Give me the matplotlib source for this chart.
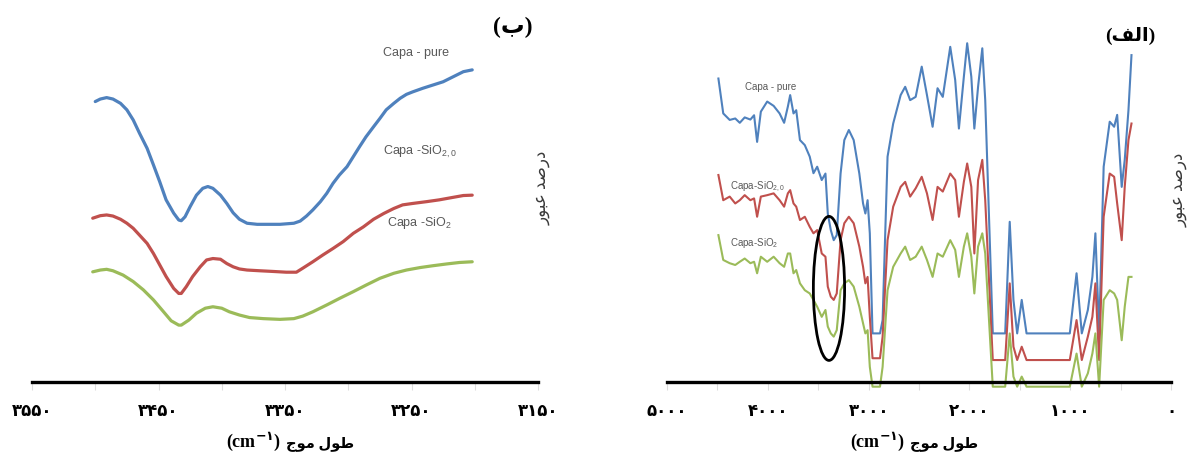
#!/usr/bin/env python3
"""FTIR transmission spectra of Capa samples: full range and the O-H band."""

import matplotlib
matplotlib.use("Agg")
import matplotlib.pyplot as plt
from matplotlib.patches import Ellipse

plt.rcParams["mathtext.fontset"] = "custom"
plt.rcParams["mathtext.rm"] = "Liberation Sans"
plt.rcParams["mathtext.bf"] = "DejaVu Sans:bold"

# panel (b): 3550-3150 cm-1 zoom
zoom_wn_pure = [3500, 3496, 3491, 3486, 3480, 3475, 3470, 3465, 3459, 3454,
                3449, 3444, 3438, 3434, 3432, 3429, 3425, 3420, 3415, 3411,
                3407, 3401, 3396, 3391, 3386, 3380, 3372, 3365, 3354, 3343,
                3338, 3333, 3328, 3322, 3317, 3312, 3307, 3301, 3296, 3291,
                3286, 3280, 3275, 3270, 3264, 3259, 3254, 3249, 3241, 3233,
                3225, 3217, 3209, 3202]
zoom_t_pure = [77.9, 78.6, 79.0, 78.6, 77.4, 75.6, 72.8, 69.1, 64.9, 60.3,
               55.6, 50.6, 46.9, 45.0, 44.8, 45.9, 48.7, 51.9, 53.8, 54.3,
               53.8, 51.9, 49.6, 47.0, 45.2, 44.1, 43.8, 43.8, 43.8, 44.1,
               44.7, 46.1, 47.8, 50.1, 52.4, 55.2, 57.5, 59.8, 62.6, 65.4,
               68.1, 70.9, 73.2, 75.6, 77.4, 78.8, 79.9, 80.6, 81.6, 82.5,
               83.4, 84.8, 86.2, 86.7]
zoom_wn_sio2a = [3502, 3496, 3491, 3486, 3480, 3475, 3470, 3465, 3459, 3454,
                 3449, 3444, 3438, 3434, 3432, 3428, 3423, 3417, 3412, 3407,
                 3401, 3396, 3391, 3386, 3380, 3370, 3359, 3349, 3341, 3336,
                 3328, 3320, 3312, 3304, 3296, 3288, 3280, 3272, 3264, 3257,
                 3249, 3238, 3228, 3217, 3209, 3202]
zoom_t_sio2a = [45.5, 46.2, 46.4, 46.1, 45.2, 44.1, 42.7, 40.8, 38.5, 35.7,
                32.5, 29.3, 26.0, 24.6, 24.6, 26.5, 29.3, 32.0, 33.9, 34.3,
                34.1, 32.9, 32.0, 31.4, 31.1, 30.9, 30.7, 30.5, 30.5, 31.6,
                33.4, 35.3, 37.1, 39.0, 41.3, 43.1, 45.2, 46.8, 48.2, 49.2,
                49.6, 50.1, 50.6, 51.3, 51.8, 51.9]
zoom_wn_sio2 = [3502, 3496, 3491, 3486, 3478, 3470, 3462, 3454, 3446, 3440,
                3434, 3432, 3426, 3420, 3413, 3407, 3400, 3394, 3386, 3378,
                3367, 3354, 3343, 3336, 3328, 3317, 3307, 3296, 3286, 3275,
                3264, 3254, 3243, 3233, 3222, 3212, 3202]
zoom_t_sio2 = [30.6, 31.1, 31.3, 30.9, 29.7, 27.9, 25.6, 22.8, 19.5, 17.0,
               15.8, 15.8, 17.2, 19.1, 20.5, 20.9, 20.5, 19.5, 18.6, 17.9,
               17.6, 17.4, 17.6, 18.3, 19.5, 21.4, 23.2, 25.1, 26.9, 28.8,
               30.2, 31.1, 31.8, 32.3, 32.8, 33.2, 33.4]

zoom_ticks = [3550, 3450, 3350, 3250, 3150]
zoom_minor = [3500, 3400, 3300, 3200]
zoom_labels = ["۳۵۵۰", "۳۴۵۰", "۳۳۵۰", "۳۲۵۰", "۳۱۵۰"]

# panel (a): full spectrum
full_wn = [4490, 4442, 4378, 4323, 4278, 4229, 4173, 4136, 4106, 4069,
           4006, 3942, 3883, 3838, 3801, 3778, 3745, 3718, 3681, 3633,
           3584, 3547, 3510, 3465, 3428, 3405, 3375, 3346, 3316, 3278,
           3241, 3196, 3148, 3092, 3055, 3032, 3010, 2988, 2961, 2887,
           2861, 2812, 2756, 2682, 2637, 2588, 2533, 2473, 2421, 2365,
           2316, 2264, 2190, 2141, 2104, 2055, 2022, 1981, 1951, 1914,
           1872, 1843, 1768, 1645, 1600, 1563, 1526, 1481, 1433, 1004,
           937, 885, 825, 780, 750, 713, 668, 608, 564, 534,
           489, 459, 422, 392]
full_t_pure = [84.3, 74.6, 72.8, 73.2, 72.0, 73.5, 72.9, 74.1, 66.7, 75.1,
               77.9, 76.7, 74.6, 72.0, 76.5, 79.7, 74.6, 75.5, 67.2, 65.8,
               62.6, 58.0, 59.8, 56.1, 57.9, 46.8, 42.2, 39.4, 40.8, 57.9,
               67.2, 70.0, 67.2, 57.9, 49.6, 46.8, 50.5, 41.3, 13.5, 13.5,
               17.2, 62.6, 71.8, 79.7, 82.0, 78.3, 79.2, 87.6, 79.7, 70.9,
               81.6, 79.2, 93.1, 83.9, 70.4, 84.8, 94.1, 84.8, 70.4, 82.0,
               92.7, 78.3, 13.5, 13.5, 44.5, 22.8, 13.5, 22.8, 13.5, 13.5,
               30.2, 13.5, 20.0, 29.2, 41.3, 13.5, 59.8, 72.3, 70.9, 74.2,
               54.2, 61.7, 75.5, 90.8]
full_t_sio2a = [57.5, 50.5, 51.5, 49.6, 50.5, 51.9, 50.5, 51.0, 45.9, 51.5,
                51.9, 52.4, 50.5, 48.7, 52.4, 53.3, 49.6, 48.7, 45.0, 45.9,
                43.1, 41.3, 42.2, 35.7, 34.8, 26.5, 23.7, 22.8, 24.6, 39.4,
                44.1, 45.9, 44.1, 37.6, 32.0, 27.4, 29.2, 18.1, 6.6, 6.6,
                12.6, 39.4, 48.7, 54.2, 55.6, 51.5, 53.8, 57.0, 52.4, 45.0,
                54.2, 52.9, 57.9, 56.1, 45.9, 55.6, 60.7, 54.2, 35.7, 56.1,
                61.7, 50.5, 6.1, 6.1, 27.4, 9.8, 6.1, 9.8, 6.1, 6.1,
                17.2, 6.1, 12.6, 18.1, 27.4, 6.1, 45.9, 57.9, 57.0, 49.6,
                39.4, 54.2, 67.2, 71.8]
full_t_sio2 = [40.8, 33.9, 33.0, 32.5, 33.4, 34.3, 33.0, 33.4, 30.2, 34.8,
               33.4, 34.8, 33.0, 32.0, 35.7, 35.7, 30.2, 31.1, 27.4, 25.5,
               24.6, 22.8, 20.9, 18.1, 20.0, 15.4, 13.5, 12.6, 14.4, 25.5,
               27.4, 28.3, 26.5, 20.9, 16.3, 13.5, 14.4, 4.2, -1.3, -1.3,
               4.2, 25.5, 32.0, 35.7, 37.6, 33.9, 34.8, 37.6, 33.9, 29.2,
               35.7, 34.8, 39.4, 36.7, 29.2, 37.6, 41.3, 34.8, 24.6, 37.6,
               41.3, 35.7, -1.3, -1.3, 13.5, 1.5, -1.3, 1.5, -1.3, -1.3,
               7.9, -1.3, 2.4, 7.9, 13.5, -1.3, 22.8, 25.5, 24.6, 22.8,
               11.6, 20.9, 29.2, 29.2]

full_ticks = [5000, 4000, 3000, 2000, 1000, 0]
full_minor = [4500, 3500, 2500, 1500, 500]
full_labels = ["۵۰۰۰", "۴۰۰۰", "۳۰۰۰", "۲۰۰۰", "۱۰۰۰", "۰"]

# O-H region ringed on the full spectrum: centre (wn, T), width, height
oh_centre = (3393, 26)
oh_size = (310, 40)

BLUE, RED, GREEN = "#4F81BD", "#C0504D", "#9BBB59"
GREY = "#595959"
FA = ["Liberation Serif", "DejaVu Sans"]
SANS = ["Liberation Sans", "DejaVu Sans"]

# Persian strings in visual (left-to-right) order with contextual forms
XLABEL_FA = "ﺝﻮﻣ ﻝﻮﻃ"
YLABEL_FA = "ﺭﻮﺒﻋ ﺪﺻﺭﺩ"

W, H = 1190, 459
fig = plt.figure(figsize=(W / 100, H / 100), dpi=100)


def px(x, y):
    return x / W, 1 - y / H


def make_axes(x0, x1, top=22, bottom=400):
    return fig.add_axes([x0 / W, 1 - bottom / H, (x1 - x0) / W, (bottom - top) / H])


def style(ax, xlim, ticks, minor, labels):
    ax.set_xlim(*xlim)
    ax.set_ylim(-5, 100)
    ax.patch.set_alpha(0)
    for s in ("top", "left", "right"):
        ax.spines[s].set_visible(False)
    ax.spines["bottom"].set_position(("data", 0))
    ax.spines["bottom"].set_linewidth(2.4)
    ax.spines["bottom"].set_zorder(5)
    ax.set_yticks([])
    ax.set_xticks(ticks)
    ax.set_xticks(minor, minor=True)
    ax.set_xticklabels(labels, fontsize=12, fontweight="bold", fontfamily=FA)
    ax.tick_params(axis="x", which="both", direction="out", length=6,
                   width=0.8, color="#dddddd", pad=10)


def xlabel(xsplit, y):
    fig.text(*px(xsplit - 2, y), "(cm$^{\\mathbf{-۱}}$)", ha="right", va="baseline",
             fontsize=13, fontweight="bold", fontfamily="Liberation Serif")
    fig.text(*px(xsplit + 3, y), XLABEL_FA, ha="left", va="baseline",
             fontsize=10.5, fontweight="bold", fontfamily=FA)


def side_label(x, y):
    fig.text(*px(x, y), YLABEL_FA, rotation=90, ha="center", va="center",
             fontsize=12, color="#3a3a3a", fontfamily=FA)


# ---- panel (b)
ax_b = make_axes(32, 538)
style(ax_b, (3550, 3150), zoom_ticks, zoom_minor, zoom_labels)
for wn, t, c in ((zoom_wn_pure, zoom_t_pure, BLUE),
                 (zoom_wn_sio2a, zoom_t_sio2a, RED),
                 (zoom_wn_sio2, zoom_t_sio2, GREEN)):
    ax_b.plot(wn, t, color=c, lw=2.3, solid_joinstyle="round",
              solid_capstyle="round")

fig.text(*px(513, 27), "(ب)", ha="center", va="center", fontsize=17,
         fontweight="bold", fontfamily=FA)
fig.text(*px(383, 53), "Capa - pure", ha="left", va="center", fontsize=9,
         color=GREY, fontfamily=SANS)
fig.text(*px(383, 152), "Capa -SiO$_{\\mathrm{2,0}}$", ha="left", va="center",
         fontsize=9, color=GREY, fontfamily=SANS)
fig.text(*px(387, 223), "Capa -SiO$_{\\mathrm{2}}$", ha="left", va="center",
         fontsize=9, color=GREY, fontfamily=SANS)
side_label(543, 188)
xlabel(283, 447)

# ---- panel (a)
ax_a = make_axes(667, 1171)
style(ax_a, (5000, 0), full_ticks, full_minor, full_labels)
for t, c in ((full_t_pure, BLUE), (full_t_sio2a, RED), (full_t_sio2, GREEN)):
    ax_a.plot(full_wn, t, color=c, lw=1.5, solid_joinstyle="round")
ax_a.add_patch(Ellipse(oh_centre, *oh_size, fill=False, ec="black", lw=2,
                       zorder=6))

fig.text(*px(1130, 36), "(ﻒﻟﺍ)", ha="center", va="center", fontsize=14,
         fontweight="bold", fontfamily=FA)
fig.text(*px(745, 87), "Capa - pure", ha="left", va="center", fontsize=7,
         color=GREY, fontfamily=SANS)
fig.text(*px(730, 187), "Capa-SiO$_{\\mathrm{2,0}}$", ha="left", va="center",
         fontsize=7, color=GREY, fontfamily=SANS)
fig.text(*px(730, 243), "Capa-SiO$_{\\mathrm{2}}$", ha="left", va="center",
         fontsize=7, color=GREY, fontfamily=SANS)
side_label(1180, 190)
xlabel(907, 447)

fig.savefig("out.png", dpi=100)
